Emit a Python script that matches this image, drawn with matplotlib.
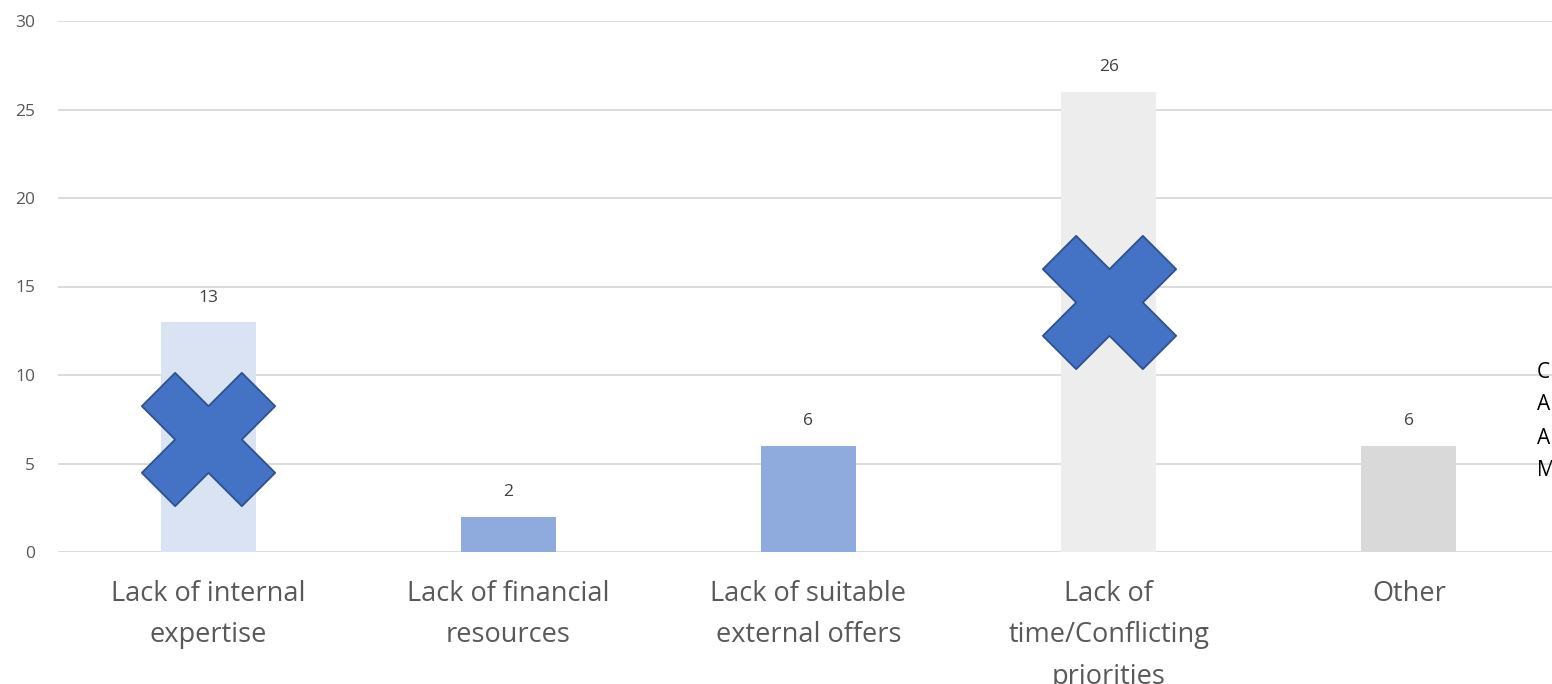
import matplotlib.pyplot as plt
from matplotlib.path import Path

plt.rcParams['font.family'] = ['Open Sans', 'DejaVu Sans']

# Chart data
categories = ['Lack of internal\nexpertise', 'Lack of financial\nresources',
              'Lack of suitable\nexternal offers', 'Lack of\ntime/Conflicting\npriorities',
              'Other']
values = [13, 2, 6, 26, 6]
bar_colors = ['#DAE3F3', '#8FAADC', '#8FAADC', '#EDEDED', '#D9D9D9']

# Cross shapes drawn over two of the bars
cross_idx = [0, 3]
cross_vals = [6.4, 14.1]

# cut-off legend letters at the right edge
side_letters = ['C', 'A', 'A', 'M']

W, H = 1552, 684
fig = plt.figure(figsize=(W / 100, H / 100), dpi=100)
ax = fig.add_axes([58 / W, (H - 552) / H, 1501 / W, 531 / H])

x = list(range(len(values)))
ax.bar(x, values, width=0.316, color=bar_colors, zorder=2)

for xi, v in zip(x, values):
    ax.annotate(str(v), (xi, v), xytext=(0, 17.5), textcoords='offset points',
                ha='center', va='center', fontsize=12.5, color='#404040')

cross = Path([(-1, 0.5), (-0.5, 1), (0, 0.5), (0.5, 1), (1, 0.5), (0.5, 0),
              (1, -0.5), (0.5, -1), (0, -0.5), (-0.5, -1), (-1, -0.5), (-0.5, 0),
              (-1, 0.5)], closed=True)
ax.plot(cross_idx, cross_vals, linestyle='none', marker=cross, markersize=96,
        markerfacecolor='#4472C4', markeredgecolor='#2F528F', markeredgewidth=1.3,
        zorder=3)

ax.set_xlim(-0.5, 4.5)
ax.set_ylim(0, 30)
ax.set_yticks(range(0, 31, 5))
ax.set_xticks(x)
ax.set_xticklabels(categories, linespacing=1.65)
ax.grid(axis='y', color='#D9D9D9', linewidth=1.3, zorder=0)
ax.set_axisbelow(True)
for s in ax.spines.values():
    s.set_visible(False)
ax.tick_params(axis='y', length=0, pad=16.5, labelsize=12.5, labelcolor='#595959')
ax.tick_params(axis='x', length=0, pad=20, labelsize=19.5, labelcolor='#595959')

for i, letter in enumerate(side_letters):
    fig.text(1537 / W, 1 - (372 + 33 * i) / H, letter, fontsize=15,
             color='#000000', va='center', ha='left')

fig.savefig('out.png', dpi=100)
